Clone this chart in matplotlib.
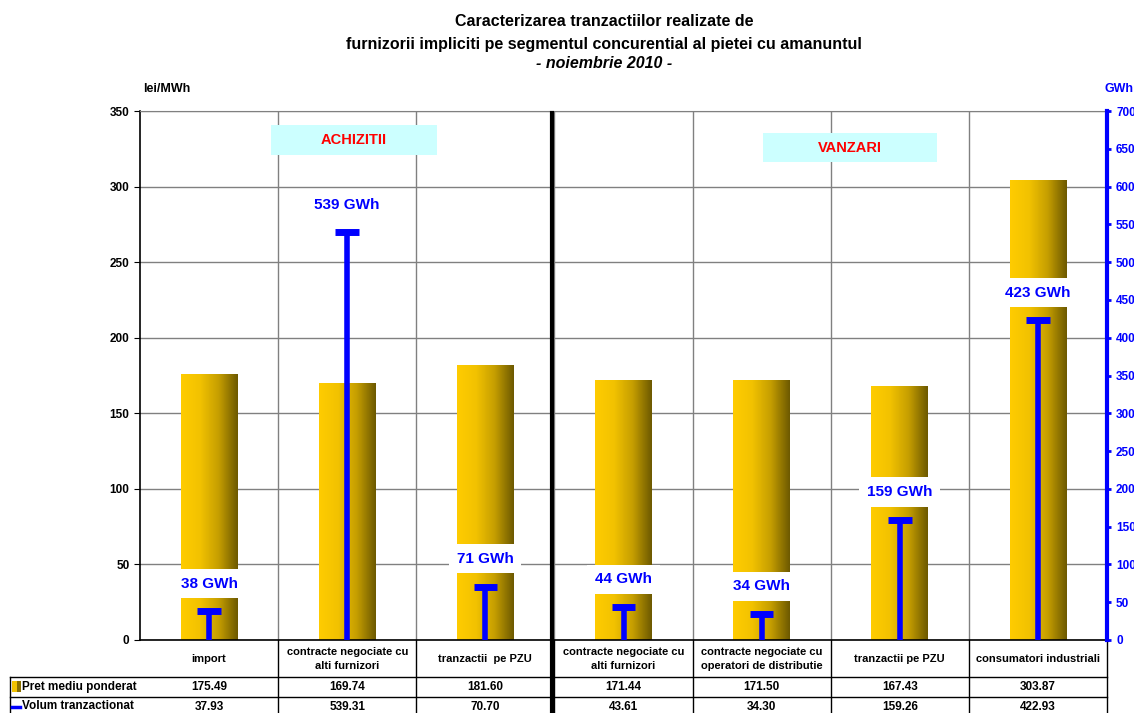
import numpy as np
import matplotlib
matplotlib.use("Agg")
import matplotlib.pyplot as plt
from matplotlib.colors import LinearSegmentedColormap
from matplotlib.patches import Rectangle
from matplotlib.transforms import blended_transform_factory

plt.rcParams['font.family'] = ['Liberation Sans', 'DejaVu Sans']

categories = ["import", "contracte negociate cu\nalti furnizori", "tranzactii  pe PZU",
              "contracte negociate cu\nalti furnizori", "contracte negociate cu\noperatori de distributie",
              "tranzactii pe PZU", "consumatori industriali"]
pret = [175.49, 169.74, 181.60, 171.44, 171.50, 167.43, 303.87]
volum = [37.93, 539.31, 70.70, 43.61, 34.30, 159.26, 422.93]
pret_labels = ["175.49", "169.74", "181.60", "171.44", "171.50", "167.43", "303.87"]
volum_labels = ["37.93", "539.31", "70.70", "43.61", "34.30", "159.26", "422.93"]

gold = LinearSegmentedColormap.from_list("gold", ["#FFCC00", "#F2C200", "#C59E00", "#6E5A00"])
grad = np.linspace(0, 1, 64).reshape(1, -1)

fig = plt.figure(figsize=(11.34, 7.13), dpi=100)
ax = fig.add_axes([140/1134, 73/713, 967/1134, 529/713])
x = np.arange(len(categories))
bw = 0.41

# price bars with gradient fill
for i, v in enumerate(pret):
    ax.imshow(grad, extent=[i - bw/2, i + bw/2, 0, v], aspect='auto', cmap=gold, zorder=2)

ax.set_xlim(-0.5, 6.5)
ax.set_ylim(0, 350)
ax.set_yticks(range(0, 351, 50))
ax.set_xticks([])
ax.tick_params(axis='y', length=4, labelsize=8.5)
for t in ax.get_yticklabels():
    t.set_fontweight('bold')
ax.grid(axis='y', color='#808080', lw=1)
for b in np.arange(0.5, 6.5, 1):
    ax.axvline(b, color='#808080', lw=1, zorder=1)
ax.set_axisbelow(True)
ax.spines['top'].set_color('#808080')
ax.spines['right'].set_visible(False)
ax.spines['left'].set_linewidth(1.2)
ax.spines['bottom'].set_linewidth(1.2)
ax.text(0.003, 1.035, "lei/MWh", transform=ax.transAxes, fontsize=9, fontweight='bold')

# volume on secondary axis
ax2 = ax.twinx()
ax2.set_ylim(0, 700)
ax2.set_yticks(range(0, 701, 50))
ax2.spines['right'].set_color('blue')
ax2.spines['right'].set_linewidth(3)
for s in ['top', 'left', 'bottom']:
    ax2.spines[s].set_visible(False)
ax2.tick_params(axis='y', colors='blue', length=3, width=2, labelsize=8.5)
for t in ax2.get_yticklabels():
    t.set_fontweight('bold')
ax2.text(0.997, 1.035, "GWh", transform=ax2.transAxes, fontsize=9, fontweight='bold', color='blue')

ax2.vlines(x, 0, volum, color='blue', lw=4, zorder=3)
ax2.hlines(volum, x - 0.085, x + 0.085, color='blue', lw=5, zorder=3)
for i, v in enumerate(volum):
    ax2.annotate(f"{round(v)} GWh", (i, v), xytext=(0, 20), textcoords='offset points',
                 ha='center', va='center', color='blue', fontsize=11, fontweight='bold',
                 bbox=dict(facecolor='white', edgecolor='none', boxstyle='square,pad=0.5'), zorder=4)

# section boxes
ax.add_patch(Rectangle((131/967, 1 - (155-111)/529), 166/967, 30/529, transform=ax.transAxes,
                       facecolor='#CCFFFF', edgecolor='none', zorder=4))
ax.add_patch(Rectangle((623/967, 1 - (162-111)/529), 174/967, 29/529, transform=ax.transAxes,
                       facecolor='#CCFFFF', edgecolor='none', zorder=4))
ax.text((131+83)/967, 1 - (140-111)/529, "ACHIZITII", transform=ax.transAxes, ha='center', va='center',
        color='red', fontsize=10.5, fontweight='bold', zorder=5)
ax.text((623+87)/967, 1 - (148-111)/529, "VANZARI", transform=ax.transAxes, ha='center', va='center',
        color='red', fontsize=10.5, fontweight='bold', zorder=5)

# separator between sections
tr = blended_transform_factory(ax.transData, ax.transAxes)
ax.plot([2.48, 2.48], [-0.15, 0.996], transform=tr, color='black', lw=3, clip_on=False, zorder=6)

# data table
rows_y = [0, -0.070, -0.1078, -0.1456]
for yy in rows_y[1:]:
    ax.plot([-0.1344, 1.0], [yy, yy], transform=ax.transAxes, color='black', lw=1, clip_on=False)
ax.plot([-0.1344, -0.1344], [rows_y[1], rows_y[3]], transform=ax.transAxes, color='black', lw=1, clip_on=False)
for b in np.arange(0.5, 7, 1):
    ax.plot([b, b], [0, -0.15], transform=tr, color='black', lw=1, clip_on=False)
for i in range(len(categories)):
    ax.text(i, -0.036, categories[i], transform=tr, ha='center', va='center', fontsize=8,
            fontweight='bold', linespacing=1.55, clip_on=False)
    ax.text(i, -0.089, pret_labels[i], transform=tr, ha='center', va='center', fontsize=8.5,
            fontweight='bold', clip_on=False)
    ax.text(i, -0.127, volum_labels[i], transform=tr, ha='center', va='center', fontsize=8.5,
            fontweight='bold', clip_on=False)

# row headers with legend keys
fig.add_artist(Rectangle((12/1134, 1 - 692/713), 5/1134, 11/713, facecolor='#F2C200', edgecolor='none'))
fig.add_artist(Rectangle((17/1134, 1 - 692/713), 4/1134, 11/713, facecolor='#8A7000', edgecolor='none'))
fig.add_artist(plt.Line2D([12/1134, 20/1134], [1 - 707/713, 1 - 707/713], color='blue', lw=2.5))
fig.text(22/1134, 1 - 687/713, "Pret mediu ponderat", fontsize=8.5, fontweight='bold', va='center')
fig.text(22/1134, 1 - 706/713, "Volum tranzactionat", fontsize=8.5, fontweight='bold', va='center')

# title
tx = 604/1134
fig.text(tx, 1 - 21/713, "Caracterizarea tranzactiilor realizate de", ha='center', va='center',
         fontsize=11.5, fontweight='bold')
fig.text(tx, 1 - 44/713, "furnizorii impliciti pe segmentul concurential al pietei cu amanuntul",
         ha='center', va='center', fontsize=11.5, fontweight='bold')
fig.text(tx, 1 - 64/713, "- noiembrie 2010 -", ha='center', va='center',
         fontsize=11.5, fontweight='bold', style='italic')

fig.savefig("out.png", dpi=100)
